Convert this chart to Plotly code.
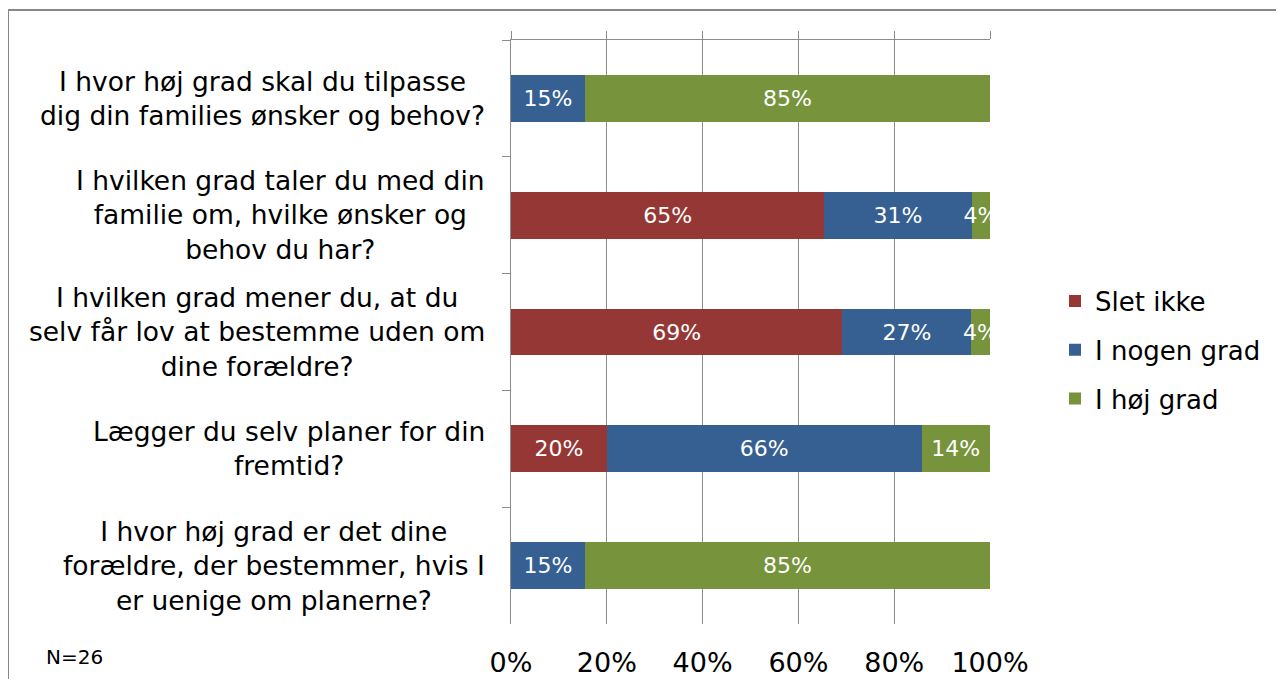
import plotly.graph_objects as go

categories = [
    "I hvor høj grad skal du tilpasse<br>dig din families ønsker og behov?",
    "I hvilken grad taler du med din<br>familie om, hvilke ønsker og<br>behov du har?",
    "I hvilken grad mener du, at du<br>selv får lov at bestemme uden om<br>dine forældre?",
    "Lægger du selv planer for din<br>fremtid?",
    "I hvor høj grad er det dine<br>forældre, der bestemmer, hvis I<br>er uenige om planerne?",
]
series_names = ["Slet ikke", "I nogen grad", "I høj grad"]
slet_ikke = [0, 65.4, 69.2, 20.0, 0]
i_nogen_grad = [15.4, 30.8, 26.9, 65.7, 15.4]
i_hoej_grad = [84.6, 3.8, 3.8, 14.3, 84.6]
colors = ["#953735", "#376092", "#77933C"]
tick_vals = [0, 20, 40, 60, 80, 100]
tick_text = ["0%", "20%", "40%", "60%", "80%", "100%"]
note = "N=26"

FONT = "DejaVu Sans"
GRID = "#8c8c8c"

# the page body has an 8px margin: work in page pixels, convert to figure pixels
OFF = 8
W, H = 1284 - 2 * OFF, 687 - 2 * OFF
# plot area in page pixels
L, R, T, B = 511, 990, 40, 624
pw, ph = R - L, B - T

def px_x(x):
    return (x - L) / pw

def px_y(y):
    return (B - y) / ph

cat_ids = [f"c{i}" for i in range(len(categories))]

fig = go.Figure()
for name, vals, col in zip(series_names, [slet_ikke, i_nogen_grad, i_hoej_grad], colors):
    fig.add_trace(go.Bar(
        y=cat_ids, x=vals, name=name, orientation="h",
        marker=dict(color=col, line=dict(width=0)),
        text=[f"{v:.0f}%" if v > 0 else "" for v in vals],
        textposition="inside", insidetextanchor="middle",
        textangle=0, constraintext="none", cliponaxis=True,
        textfont=dict(family=FONT, size=22, color="white"),
        legendgroup=name, hoverinfo="skip",
    ))

# dummy trace for top axis line
fig.add_trace(go.Scatter(x=[None], y=[None], xaxis="x2", showlegend=False, hoverinfo="skip"))

for cid, txt in zip(cat_ids, categories):
    fig.add_annotation(
        x=px_x(487), xref="paper", xanchor="right",
        y=cid, yref="y", yanchor="middle", yshift=0,
        text=txt, align="center", showarrow=False,
        font=dict(family=FONT, size=26.5, color="black"),
    )

fig.add_annotation(
    x=px_x(44), xref="paper", xanchor="left",
    y=px_y(657), yref="paper", yanchor="middle",
    text=note, showarrow=False,
    font=dict(family=FONT, size=20, color="black"),
)

# outer chart border
fig.add_shape(type="rect", xref="paper", yref="paper",
              x0=px_x(8), x1=px_x(1320), y0=px_y(10), y1=px_y(720),
              line=dict(color="#888888", width=2), fillcolor="rgba(0,0,0,0)", layer="below")

fig.update_layout(
    width=W, height=H,
    barmode="stack", bargap=0.6,
    paper_bgcolor="white", plot_bgcolor="white",
    margin=dict(l=L - OFF, r=W - (R - OFF), t=T - OFF, b=H - (B - OFF), autoexpand=False),
    font=dict(family=FONT, color="black"),
    xaxis=dict(range=[0, 100], tickvals=tick_vals, ticktext=tick_text,
               showgrid=True, gridcolor=GRID, gridwidth=1, zeroline=False,
               showline=False, ticks="", ticklabelstandoff=20,
               tickfont=dict(family=FONT, size=27, color="black")),
    xaxis2=dict(range=[0, 100], overlaying="x", side="top", tickvals=tick_vals,
                showgrid=False, zeroline=False, showline=True, linecolor=GRID,
                linewidth=1, ticks="outside", ticklen=8, tickcolor=GRID,
                showticklabels=False),
    yaxis=dict(type="category", autorange="reversed", showgrid=False,
               showline=True, linecolor=GRID, linewidth=1, ticks="outside",
               tickson="boundaries", ticklen=8, tickcolor=GRID,
               showticklabels=False, zeroline=False),
    legend=dict(x=px_x(1055), xanchor="left", y=px_y(350), yanchor="middle",
                traceorder="grouped", tracegroupgap=12,
                font=dict(family=FONT, size=26, color="black"),
                bgcolor="rgba(0,0,0,0)"),
    showlegend=True,
)

fig.write_html("out.html")
